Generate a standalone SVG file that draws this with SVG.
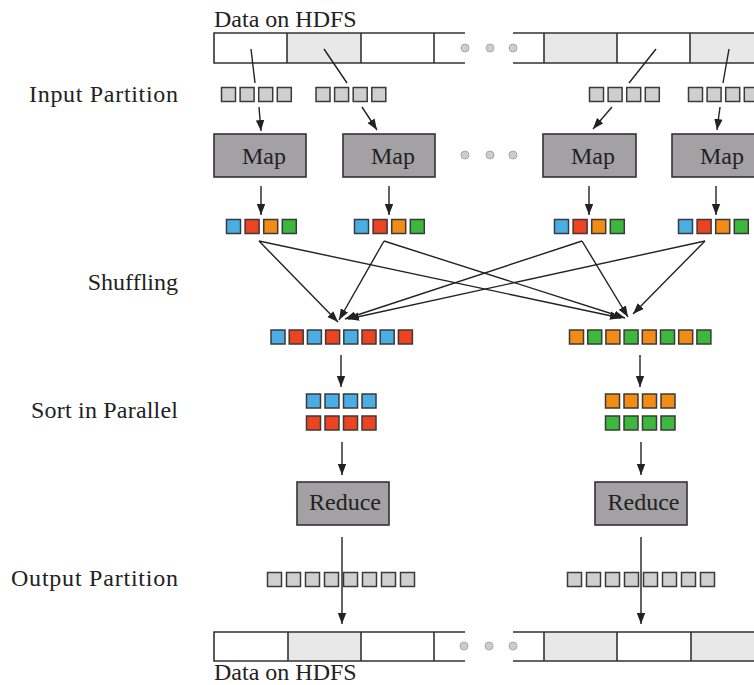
<svg xmlns="http://www.w3.org/2000/svg" width="754" height="685" viewBox="0 0 754 685">
  <defs>
    <style>
      .lbl { font-family: "Liberation Serif", "Times New Roman", serif; font-size: 24px; fill: #222; }
      .box { fill: #a3a1a3; stroke: #333; stroke-width: 1.6; }
      .cellg { fill: #e8e8e8; stroke: none; }
      .bar { stroke: #333; stroke-width: 1.6; fill: none; }
      .dot { fill: #cdcdcd; stroke: #aaa; stroke-width: 1; }
      .sq rect { stroke: #3a3a3a; stroke-width: 1.5; }
      .g { fill: #cfcfcf; }
      .b { fill: #4aaee4; }
      .r { fill: #ee4320; }
      .o { fill: #f28c14; }
      .n { fill: #3cb83c; }
      .ln { stroke: #222; stroke-width: 1.4; fill: none; }
      .ar { stroke: #222; stroke-width: 1.4; fill: none; marker-end: url(#head); }
    </style>
    <marker id="head" markerUnits="userSpaceOnUse" markerWidth="12" markerHeight="10" refX="11" refY="5" orient="auto">
      <path d="M0,0.8 L11,5 L0,9.2 Z" fill="#222"/>
    </marker>
    <!-- four square block: 14.5 wide, pitch 18.6 -->
    <g id="q4g" class="sq">
      <rect class="g" x="0" y="0" width="14" height="14"/>
      <rect class="g" x="18.6" y="0" width="14" height="14"/>
      <rect class="g" x="37.2" y="0" width="14" height="14"/>
      <rect class="g" x="55.8" y="0" width="14" height="14"/>
    </g>
    <g id="q4c" class="sq">
      <rect class="b" x="0" y="0" width="14" height="14"/>
      <rect class="r" x="18.6" y="0" width="14" height="14"/>
      <rect class="o" x="37.2" y="0" width="14" height="14"/>
      <rect class="n" x="55.8" y="0" width="14" height="14"/>
    </g>
    <g id="q8g" class="sq">
      <rect class="g" x="0" y="0" width="14" height="14"/>
      <rect class="g" x="19" y="0" width="14" height="14"/>
      <rect class="g" x="38" y="0" width="14" height="14"/>
      <rect class="g" x="57" y="0" width="14" height="14"/>
      <rect class="g" x="76" y="0" width="14" height="14"/>
      <rect class="g" x="95" y="0" width="14" height="14"/>
      <rect class="g" x="114" y="0" width="14" height="14"/>
      <rect class="g" x="133" y="0" width="14" height="14"/>
    </g>
  </defs>

  <rect width="754" height="685" fill="#fff"/>

  <!-- row labels -->
  <g id="labels">
    <text class="lbl" x="214" y="27">Data on HDFS</text>
    <text class="lbl" x="178" y="102" text-anchor="end" textLength="149">Input Partition</text>
    <text class="lbl" x="178" y="290" text-anchor="end">Shuffling</text>
    <text class="lbl" x="178" y="418" text-anchor="end" textLength="147">Sort in Parallel</text>
    <text class="lbl" x="178" y="586" text-anchor="end" textLength="167">Output Partition</text>
    <text class="lbl" x="214" y="680">Data on HDFS</text>
  </g>

  <!-- HDFS storage strip, top -->
  <g id="hdfs-top">
    <rect class="cellg" x="287" y="33" width="74" height="30"/>
    <rect class="cellg" x="544" y="33" width="73" height="30"/>
    <rect class="cellg" x="690" y="33" width="64" height="30"/>
    <path class="bar" d="M465,33 H214 V63 H465 M287,33 V63 M361,33 V63 M434,33 V63"/>
    <path class="bar" d="M513,33 H754 M513,63 H754 M544,33 V63 M617,33 V63 M690,33 V63"/>
    <circle class="dot" cx="465" cy="48" r="4"/>
    <circle class="dot" cx="490" cy="48" r="4"/>
    <circle class="dot" cx="513" cy="48" r="4"/>
  </g>

  <!-- input splits -->
  <g id="input-1"><use href="#q4g" x="221.5" y="87.5"/></g>
  <g id="input-2"><use href="#q4g" x="316" y="87.5"/></g>
  <g id="input-3"><use href="#q4g" x="589.5" y="87.5"/></g>
  <g id="input-4"><use href="#q4g" x="688.5" y="87.5"/></g>

  <!-- map tasks -->
  <g id="map-1"><rect class="box" x="214" y="134" width="92" height="43"/><text class="lbl" x="264" y="164" text-anchor="middle">Map</text></g>
  <g id="map-2"><rect class="box" x="343" y="134" width="92" height="43"/><text class="lbl" x="393" y="164" text-anchor="middle">Map</text></g>
  <g id="map-3"><rect class="box" x="543" y="134" width="93" height="43"/><text class="lbl" x="593" y="164" text-anchor="middle">Map</text></g>
  <g id="map-4"><rect class="box" x="672" y="134" width="92" height="43"/><text class="lbl" x="722" y="164" text-anchor="middle">Map</text></g>
  <g id="map-dots">
    <circle class="dot" cx="465" cy="155" r="4"/>
    <circle class="dot" cx="490" cy="155" r="4"/>
    <circle class="dot" cx="513" cy="155" r="4"/>
  </g>

  <!-- map outputs, one square per key -->
  <g id="mapout-1"><use href="#q4c" x="226.5" y="219.5"/></g>
  <g id="mapout-2"><use href="#q4c" x="354.5" y="219.5"/></g>
  <g id="mapout-3"><use href="#q4c" x="554.5" y="219.5"/></g>
  <g id="mapout-4"><use href="#q4c" x="678.5" y="219.5"/></g>

  <!-- shuffled partitions -->
  <g id="merged-left" class="sq">
    <rect class="b" x="271" y="330" width="14" height="14"/>
    <rect class="r" x="289.2" y="330" width="14" height="14"/>
    <rect class="b" x="307.4" y="330" width="14" height="14"/>
    <rect class="r" x="325.6" y="330" width="14" height="14"/>
    <rect class="b" x="343.8" y="330" width="14" height="14"/>
    <rect class="r" x="362" y="330" width="14" height="14"/>
    <rect class="b" x="380.2" y="330" width="14" height="14"/>
    <rect class="r" x="398.4" y="330" width="14" height="14"/>
  </g>
  <g id="merged-right" class="sq">
    <rect class="o" x="569.5" y="330" width="14" height="14"/>
    <rect class="n" x="587.7" y="330" width="14" height="14"/>
    <rect class="o" x="605.9" y="330" width="14" height="14"/>
    <rect class="n" x="624.1" y="330" width="14" height="14"/>
    <rect class="o" x="642.3" y="330" width="14" height="14"/>
    <rect class="n" x="660.5" y="330" width="14" height="14"/>
    <rect class="o" x="678.7" y="330" width="14" height="14"/>
    <rect class="n" x="696.9" y="330" width="14" height="14"/>
  </g>

  <!-- sorted runs -->
  <g id="sorted-left" class="sq">
    <rect class="b" x="306.5" y="394" width="14" height="14"/>
    <rect class="b" x="325" y="394" width="14" height="14"/>
    <rect class="b" x="343.5" y="394" width="14" height="14"/>
    <rect class="b" x="362" y="394" width="14" height="14"/>
    <rect class="r" x="306.5" y="416" width="14" height="14"/>
    <rect class="r" x="325" y="416" width="14" height="14"/>
    <rect class="r" x="343.5" y="416" width="14" height="14"/>
    <rect class="r" x="362" y="416" width="14" height="14"/>
  </g>
  <g id="sorted-right" class="sq">
    <rect class="o" x="605.5" y="394" width="14" height="14"/>
    <rect class="o" x="624" y="394" width="14" height="14"/>
    <rect class="o" x="642.5" y="394" width="14" height="14"/>
    <rect class="o" x="661" y="394" width="14" height="14"/>
    <rect class="n" x="605.5" y="416" width="14" height="14"/>
    <rect class="n" x="624" y="416" width="14" height="14"/>
    <rect class="n" x="642.5" y="416" width="14" height="14"/>
    <rect class="n" x="661" y="416" width="14" height="14"/>
  </g>

  <!-- reduce tasks -->
  <g id="reduce-1"><rect class="box" x="297" y="482" width="92" height="43"/><text class="lbl" x="345" y="510" text-anchor="middle">Reduce</text></g>
  <g id="reduce-2"><rect class="box" x="595" y="482" width="92" height="43"/><text class="lbl" x="643.5" y="510" text-anchor="middle">Reduce</text></g>

  <!-- output splits -->
  <g id="output-1"><use href="#q8g" x="267.5" y="572.5"/></g>
  <g id="output-2"><use href="#q8g" x="567.5" y="572.5"/></g>

  <!-- HDFS storage strip, bottom -->
  <g id="hdfs-bottom">
    <rect class="cellg" x="288" y="632" width="73" height="29"/>
    <rect class="cellg" x="544" y="632" width="73" height="29"/>
    <rect class="cellg" x="691" y="632" width="63" height="29"/>
    <path class="bar" d="M465,632 H214 V661 H465 M288,632 V661 M361,632 V661 M434,632 V661"/>
    <path class="bar" d="M513,632 H754 M513,661 H754 M544,632 V661 M617,632 V661 M691,632 V661"/>
    <circle class="dot" cx="464" cy="646" r="4"/>
    <circle class="dot" cx="489" cy="646" r="4"/>
    <circle class="dot" cx="513" cy="646" r="4"/>
  </g>

  <!-- connectors -->
  <g id="connectors">
    <!-- block to split -->
    <line class="ln" x1="251" y1="49" x2="255" y2="83"/>
    <line class="ln" x1="324" y1="49" x2="347" y2="83"/>
    <line class="ln" x1="656" y1="49" x2="629" y2="83"/>
    <line class="ln" x1="729" y1="49" x2="723" y2="83"/>
    <!-- split to map -->
    <line class="ar" x1="259" y1="107" x2="261" y2="131"/>
    <line class="ar" x1="362" y1="107" x2="377" y2="130"/>
    <line class="ar" x1="612" y1="107" x2="593" y2="129"/>
    <line class="ar" x1="720" y1="107" x2="717" y2="130"/>
    <!-- map to output keys -->
    <line class="ar" x1="261" y1="186" x2="261" y2="215"/>
    <line class="ar" x1="389" y1="186" x2="389" y2="215"/>
    <line class="ar" x1="589" y1="186" x2="589" y2="215"/>
    <line class="ar" x1="716" y1="186" x2="716" y2="215"/>
    <!-- shuffle -->
    <line class="ar" x1="259" y1="241" x2="338" y2="322"/>
    <line class="ar" x1="259" y1="241" x2="621" y2="318"/>
    <line class="ar" x1="384" y1="241" x2="339" y2="320"/>
    <line class="ar" x1="384" y1="241" x2="625" y2="318"/>
    <line class="ar" x1="582" y1="241" x2="345" y2="319"/>
    <line class="ar" x1="582" y1="241" x2="628" y2="317"/>
    <line class="ar" x1="705" y1="241" x2="348" y2="319"/>
    <line class="ar" x1="705" y1="241" x2="633" y2="314"/>
    <!-- merge to sort -->
    <line class="ar" x1="341" y1="355" x2="341" y2="387"/>
    <line class="ar" x1="640" y1="355" x2="640" y2="387"/>
    <!-- sort to reduce -->
    <line class="ar" x1="342" y1="442" x2="342" y2="475"/>
    <line class="ar" x1="641" y1="442" x2="641" y2="475"/>
    <!-- reduce to storage -->
    <line class="ar" x1="342" y1="537" x2="342" y2="624"/>
    <line class="ar" x1="641" y1="537" x2="641" y2="624"/>
  </g>
</svg>
